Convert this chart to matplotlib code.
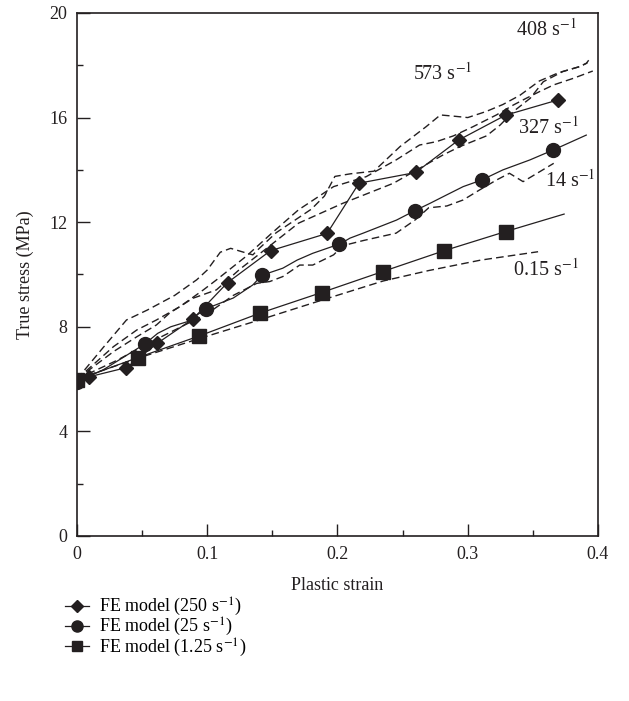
import numpy as np
import matplotlib
matplotlib.use("Agg")
import matplotlib.pyplot as plt
from matplotlib.ticker import MultipleLocator, FuncFormatter

plt.rcParams["font.family"] = ["Liberation Serif", "DejaVu Serif"]
plt.rcParams["mathtext.fontset"] = "stix"

INK = "#231f20"

# FE model, 250 1/s (diamonds)
fe250_x = [0.0095, 0.038, 0.0617, 0.089, 0.1156, 0.1486, 0.192, 0.2165, 0.26, 0.293, 0.329, 0.369]
fe250_y = [6.09, 6.44, 7.37, 8.30, 9.69, 10.91, 11.57, 13.49, 13.90, 15.14, 16.09, 16.67]

# FE model, 25 1/s (circles) - path, markers at given indices
fe25_x = [0.0, 0.02, 0.052, 0.062, 0.072, 0.085, 0.099, 0.12, 0.135, 0.142, 0.158, 0.169,
          0.181, 0.1955, 0.2013, 0.2096, 0.2197, 0.2325, 0.2453, 0.2594, 0.271, 0.2837,
          0.2965, 0.3106, 0.327, 0.3477, 0.3656, 0.391]
fe25_y = [5.90, 6.35, 7.34, 7.75, 8.00, 8.20, 8.69, 9.10, 9.60, 9.97, 10.24, 10.55,
          10.81, 11.06, 11.15, 11.39, 11.58, 11.83, 12.08, 12.44, 12.72, 13.04,
          13.36, 13.61, 14.00, 14.38, 14.76, 15.33]
fe25_marks = [0, 2, 6, 9, 14, 19, 23, 26]

# FE model, 1.25 1/s (squares)
fe125_x = [0.0, 0.0466, 0.0939, 0.1404, 0.1878, 0.2346, 0.2819, 0.329, 0.374]
fe125_y = [5.97, 6.82, 7.65, 8.52, 9.31, 10.11, 10.91, 11.64, 12.31]

# experiments (dashed)
exp573_x = [0.0, 0.02, 0.038, 0.054, 0.075, 0.092, 0.1, 0.11, 0.118, 0.128, 0.135, 0.14,
            0.153, 0.165, 0.18, 0.19, 0.198, 0.21, 0.228, 0.248, 0.268, 0.279, 0.29,
            0.30, 0.314, 0.327, 0.34, 0.355, 0.37, 0.386, 0.392]
exp573_y = [6.0, 7.2, 8.26, 8.64, 9.2, 9.8, 10.17, 10.85, 11.0, 10.85, 10.75, 11.0,
            11.6, 12.0, 12.5, 13.0, 13.75, 13.85, 13.95, 14.89, 15.65, 16.1, 16.05,
            16.0, 16.23, 16.5, 16.85, 17.4, 17.72, 17.95, 18.1]

exp327_x = [0.0, 0.028, 0.046, 0.061, 0.079, 0.097, 0.107, 0.13, 0.15, 0.17, 0.197, 0.222,
            0.245, 0.263, 0.276, 0.289, 0.304, 0.322, 0.335, 0.345, 0.355, 0.366, 0.381, 0.396]
exp327_y = [6.0, 7.24, 7.88, 8.26, 8.77, 9.41, 9.79, 10.7, 11.6, 12.47, 13.36, 13.74,
            14.38, 14.95, 15.08, 15.3, 15.65, 16.1, 16.48, 16.74, 16.99, 17.25, 17.5, 17.78]

exp408_x = [0.0, 0.028, 0.046, 0.061, 0.071, 0.089, 0.107, 0.125, 0.1456, 0.17, 0.204, 0.243,
            0.281, 0.294, 0.3144, 0.325, 0.335, 0.348, 0.358, 0.373, 0.386, 0.391, 0.394]
exp408_y = [6.0, 7.05, 7.62, 8.07, 8.52, 9.09, 9.41, 10.2, 11.0, 11.96, 12.72, 13.49,
            14.57, 14.89, 15.3, 15.72, 16.23, 16.74, 17.37, 17.76, 17.95, 18.07, 18.27]

exp14_x = [0.0, 0.03, 0.06, 0.08, 0.1, 0.12, 0.138, 0.148, 0.158, 0.171, 0.181, 0.197,
           0.204, 0.22, 0.245, 0.26, 0.27, 0.284, 0.2965, 0.309, 0.322, 0.332, 0.3425, 0.366]
exp14_y = [6.0, 6.7, 7.5, 8.0, 8.5, 9.2, 9.66, 9.73, 9.92, 10.36, 10.36, 10.75,
           11.1, 11.3, 11.58, 12.1, 12.55, 12.62, 12.85, 13.23, 13.61, 13.87, 13.55, 14.25]

exp015_x = [0.0, 0.05, 0.094, 0.14, 0.19, 0.235, 0.27, 0.31, 0.354]
exp015_y = [6.0, 6.85, 7.55, 8.26, 9.05, 9.75, 10.15, 10.55, 10.87]

rate_labels = ["408 s$^{-1}$", "573 s$^{-1}$", "327 s$^{-1}$", "14 s$^{-1}$", "0.15 s$^{-1}$"]
label_x = [0.36, 0.281, 0.362, 0.379, 0.36]
label_y = [19.35, 17.67, 15.6, 13.58, 10.17]


def main():
    fig = plt.figure(figsize=(6.29, 7.01), dpi=100)
    ax = fig.add_axes([0.1224, 0.2354, 0.8283, 0.7461])

    dash = dict(color=INK, lw=1.0, dashes=(5.5, 3))
    for xs, ys in [(exp573_x, exp573_y), (exp327_x, exp327_y), (exp408_x, exp408_y),
                   (exp14_x, exp14_y), (exp015_x, exp015_y)]:
        ax.plot(xs, ys, **dash)

    ax.plot(fe250_x, fe250_y, color=INK, lw=0.9, marker="D", ms=7.5,
            label="FE model (250 s$^{-1}$)")
    ax.plot(fe25_x, fe25_y, color=INK, lw=0.9, marker="o", ms=10,
            markevery=fe25_marks, label="FE model (25 s$^{-1}$)")
    ax.plot(fe125_x, fe125_y, color=INK, lw=0.9, marker="s", ms=9.5,
            markevery=list(range(len(fe125_x) - 1)), label="FE model (1.25 s$^{-1}$)")

    for txt, x, y in zip(rate_labels, label_x, label_y):
        ax.text(x, y, txt, ha="center", va="center", fontsize=14.5, color=INK)

    ax.set_xlim(0, 0.4)
    ax.set_ylim(0, 20)
    ax.xaxis.set_major_locator(MultipleLocator(0.1))
    ax.xaxis.set_minor_locator(MultipleLocator(0.05))
    ax.yaxis.set_major_locator(MultipleLocator(4))
    ax.yaxis.set_minor_locator(MultipleLocator(2))
    ax.xaxis.set_major_formatter(FuncFormatter(lambda v, p: "0" if v == 0 else f"{v:.1f}"))
    ax.yaxis.set_major_formatter(FuncFormatter(lambda v, p: f"{v:.0f}"))
    ax.tick_params(which="both", direction="in", top=False, right=False,
                   labelsize=13, colors=INK, width=1.0)
    ax.tick_params(which="major", length=9, pad=7)
    ax.tick_params(which="minor", length=4.5)
    for s in ax.spines.values():
        s.set_linewidth(1.2)
        s.set_color(INK)

    ax.set_xlabel("Plastic strain", fontsize=13, color=INK, labelpad=10)
    ax.set_ylabel("True stress (MPa)", fontsize=13, color=INK, labelpad=11)

    fig.legend(loc="upper left", bbox_to_anchor=(0.092, 0.16), frameon=False,
               fontsize=13, handlelength=1.3, handletextpad=0.6, labelspacing=-0.12,
               markerscale=0.8, borderaxespad=0)

    fig.savefig("out.png", dpi=100)


if __name__ == "__main__":
    main()
